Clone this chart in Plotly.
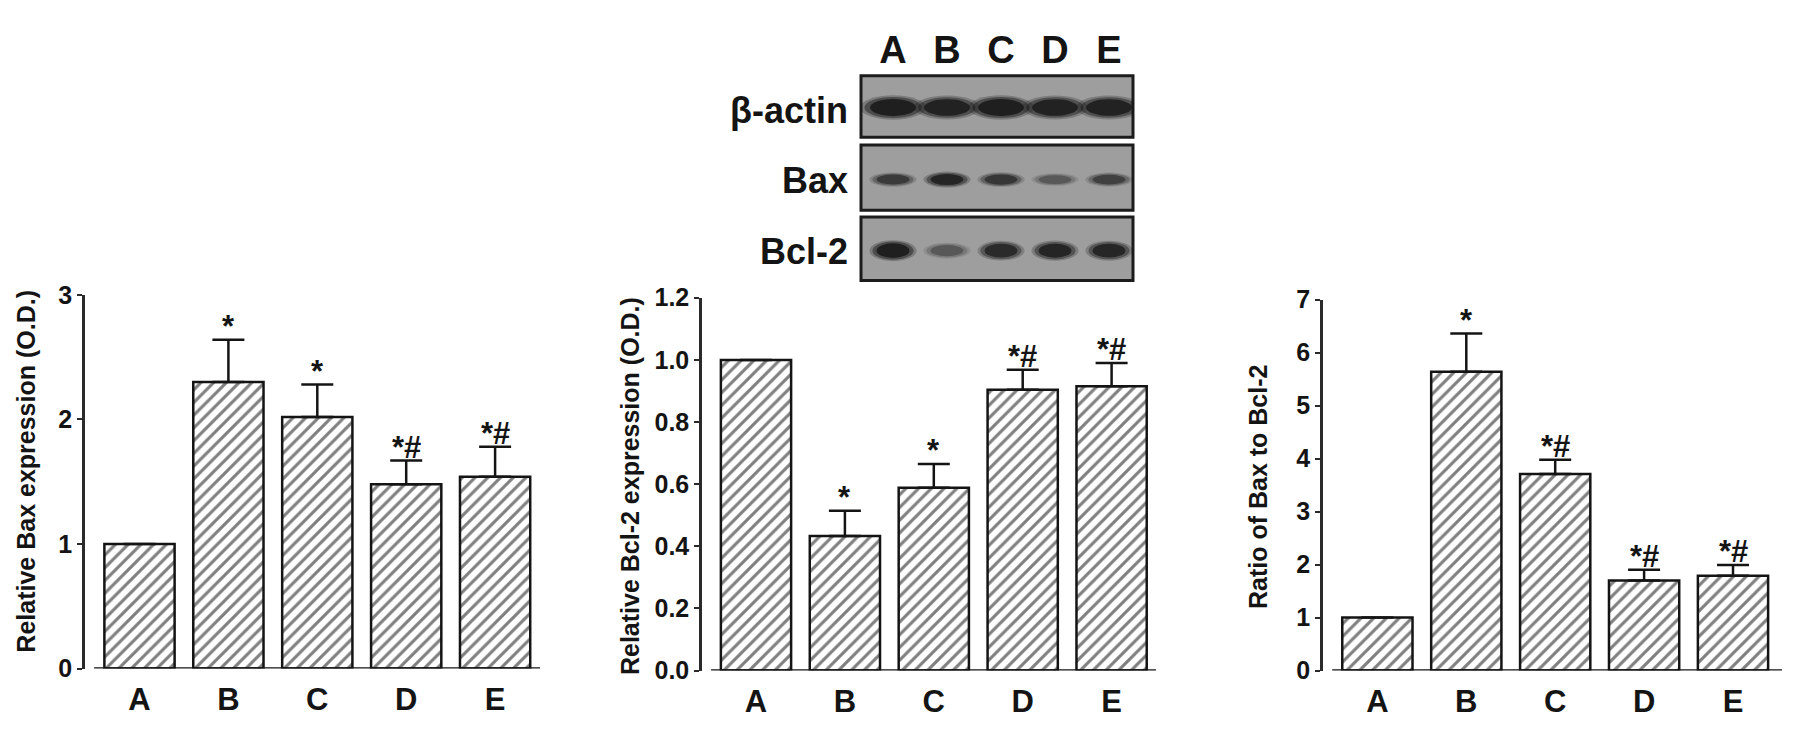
import plotly.graph_objects as go

# ---------------- data ----------------
groups = ["A", "B", "C", "D", "E"]

bax_mean = [1.00, 2.30, 2.02, 1.48, 1.54]
bax_sem = [0.00, 0.34, 0.26, 0.19, 0.24]
bax_sig = ["", "*", "*", "*#", "*#"]

bcl2_mean = [1.00, 0.433, 0.588, 0.904, 0.915]
bcl2_sem = [0.00, 0.081, 0.077, 0.064, 0.075]
bcl2_sig = ["", "*", "*", "*#", "*#"]

ratio_mean = [1.00, 5.64, 3.71, 1.70, 1.79]
ratio_sem = [0.00, 0.72, 0.27, 0.20, 0.20]
ratio_sig = ["", "*", "*#", "*#", "*#"]

y_titles = ["Relative Bax expression (O.D.)",
            "Relative Bcl-2 expression (O.D.)",
            "Ratio of Bax to Bcl-2"]
y_max = [3, 1.2, 7]
y_dtick = [1, 0.2, 1]
y_fmt = ["d", ".1f", "d"]

blot_proteins = ["β-actin", "Bax", "Bcl-2"]
actin_band = [1.00, 0.95, 1.00, 0.95, 0.95]
bax_band = [0.65, 0.90, 0.70, 0.40, 0.60]
bcl2_band = [1.00, 0.40, 0.85, 0.90, 0.88]

# ---------------- layout constants (target pixels in the screenshot) ----------------
OFF = 8                      # default page body margin on every side
W, H = 1795 - 2 * OFF, 730 - 2 * OFF
FONT = "Arial, 'Liberation Sans', Helvetica, sans-serif"
INK = "#141414"
SPACING = 88.9
panels = [
    dict(ax=85, xend=540, cA=139.5, ybot=681, ytop=292, tx=26, ty=476),
    dict(ax=702, xend=1156, cA=756.0, ybot=683, ytop=295, tx=630, ty=491),
    dict(ax=1323, xend=1782, cA=1377.4, ybot=683, ytop=297, tx=1258, ty=492),
]
series = [(bax_mean, bax_sem, bax_sig), (bcl2_mean, bcl2_sem, bcl2_sig),
          (ratio_mean, ratio_sem, ratio_sig)]


def px(x):
    return (x - OFF) / W


def py(y):
    return 1 - (y - OFF) / H


fig = go.Figure()
layout = dict(width=W, height=H, margin=dict(l=0, r=0, t=0, b=0),
              paper_bgcolor="white", plot_bgcolor="white", showlegend=False,
              font=dict(family=FONT, color=INK))
annotations = []
shapes = []

for i, (p, (mean, sem, sig)) in enumerate(zip(panels, series)):
    n = i + 1
    xa = "x" if n == 1 else f"x{n}"
    ya = "y" if n == 1 else f"y{n}"
    fig.add_trace(go.Bar(
        x=groups, y=mean, xaxis=xa, yaxis=ya, width=0.79,
        marker=dict(color="white", line=dict(color=INK, width=2.5),
                    pattern=dict(shape="/", fgcolor="#000000", bgcolor="white",
                                 size=9, solidity=0.34)),
        error_y=dict(type="data", array=sem, arrayminus=[0] * len(sem),
                     symmetric=False, color=INK, thickness=2.5, width=16),
    ))
    left = (p["ax"] - p["cA"]) / SPACING
    right = (p["xend"] - p["cA"]) / SPACING
    layout["xaxis" if n == 1 else f"xaxis{n}"] = dict(
        domain=[px(p["ax"]), px(p["xend"])], range=[left, right],
        anchor=ya, type="category", showline=False, showgrid=False,
        zeroline=False, ticks="outside", ticklen=3, tickcolor="rgba(0,0,0,0)",
        tickfont=dict(size=31, weight="bold", family=FONT, color=INK),
    )
    layout["yaxis" if n == 1 else f"yaxis{n}"] = dict(
        domain=[py(p["ybot"]), py(p["ytop"])], range=[0, y_max[i]],
        anchor=xa, dtick=y_dtick[i], tick0=0, tickformat=y_fmt[i],
        showline=True, linecolor="#2a2a2a", linewidth=2.5,
        ticks="outside", ticklen=5, tickwidth=2, tickcolor="#2a2a2a",
        showgrid=False, zeroline=False,
        tickfont=dict(size=25, weight="bold", family=FONT, color=INK),
    )
    shapes.append(dict(type="line", xref=f"{xa} domain", yref=ya,
                       x0=0.02, x1=1.0, y0=0, y1=0,
                       line=dict(color=INK, width=2.5)))
    annotations.append(dict(text=y_titles[i], x=px(p["tx"]), y=py(p["ty"]),
                            xref="paper", yref="paper", textangle=-90,
                            showarrow=False, xanchor="center", yanchor="middle",
                            font=dict(size=25, weight="bold", family=FONT, color=INK)))
    for g, m, s, t in zip(groups, mean, sem, sig):
        if t:
            annotations.append(dict(text=t, x=g, y=m + s, xref=xa, yref=ya,
                                    showarrow=False, yanchor="bottom", yshift=-6,
                                    font=dict(size=31, weight="bold", family=FONT,
                                              color=INK)))

# ---------------- western blot ----------------
BOX_X0, BOX_X1 = 861, 1133
LANE0, LANE_SP = 893, 54.0
rows = [
    dict(top=64, bot=128, cy=97, hh=11, hw=0.53, vals=actin_band, ly=100),
    dict(top=136, bot=204, cy=172, hh=7.5, hw=0.38, vals=bax_band, ly=173),
    dict(top=211, bot=277, cy=246, hh=9.5, hw=0.38, vals=bcl2_band, ly=247),
]
fig.add_trace(go.Scatter(x=groups, y=[41] * len(groups), mode="text",
                         text=groups, xaxis="x4", yaxis="y4",
                         textfont=dict(size=38, weight="bold", family=FONT, color=INK),
                         textposition="middle center", hoverinfo="skip",
                         cliponaxis=False))
layout["xaxis4"] = dict(domain=[px(BOX_X0), px(BOX_X1)],
                        range=[(BOX_X0 - LANE0) / LANE_SP, (BOX_X1 - LANE0) / LANE_SP],
                        type="category", visible=False, anchor="y4")
layout["yaxis4"] = dict(domain=[py(285), py(15)], range=[285, 15],
                        visible=False, anchor="x4")

for r, name in zip(rows, blot_proteins):
    shapes.append(dict(type="rect", xref="paper", yref="y4",
                       x0=px(BOX_X0), x1=px(BOX_X1), y0=r["top"], y1=r["bot"],
                       fillcolor="#9e9e9e", line=dict(color="#1c1c1c", width=3),
                       layer="below"))
    for j, v in enumerate(r["vals"]):
        for k, (sc, op) in enumerate([(1.15, 0.25), (1.0, 0.45), (0.8, 0.8)]):
            shapes.append(dict(type="circle", xref="x4", yref="y4",
                               x0=j - r["hw"] * sc, x1=j + r["hw"] * sc,
                               y0=r["cy"] - r["hh"] * sc * (0.6 + 0.4 * v),
                               y1=r["cy"] + r["hh"] * sc * (0.6 + 0.4 * v),
                               fillcolor=INK, opacity=op * v, line=dict(width=0),
                               layer="above"))
    annotations.append(dict(text=name, x=px(850), y=r["ly"], xref="paper", yref="y4",
                            showarrow=False, xanchor="right", yanchor="middle",
                            font=dict(size=36, weight="bold", family=FONT, color=INK)))

layout["annotations"] = annotations
layout["shapes"] = shapes
fig.update_layout(**layout)
fig.write_html("out.html")
